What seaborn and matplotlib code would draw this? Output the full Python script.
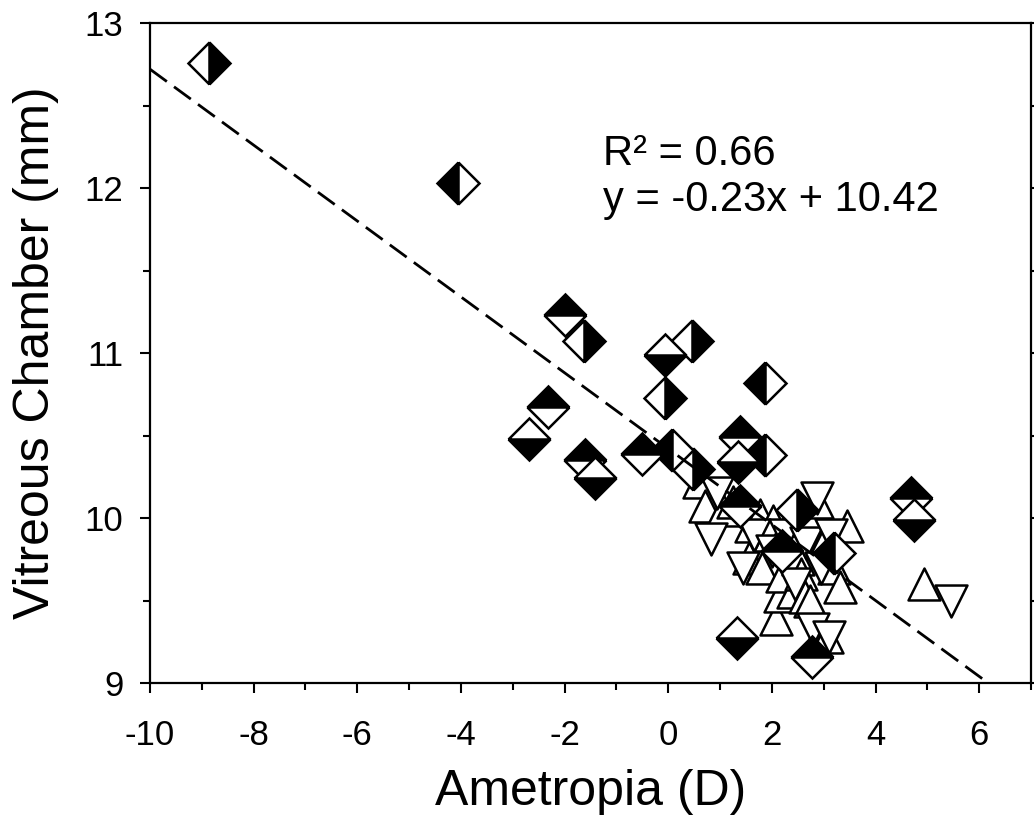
import numpy as np
import pandas as pd
import matplotlib
matplotlib.use("Agg")
import matplotlib.pyplot as plt
import seaborn as sns
from matplotlib.ticker import MultipleLocator

# Half-filled diamonds, grouped by which half is black (x: ametropia D, y: vitreous chamber mm)
diam_right_x = [-8.86, -1.62, -0.06, 0.46, 0.48, 2.49]
diam_right_y = [12.76, 11.07, 10.73, 11.07, 10.30, 10.05]
diam_left_x = [-4.06, 1.87, 0.08, 1.87, 3.20]
diam_left_y = [12.03, 10.82, 10.41, 10.38, 9.79]
diam_top_x = [-1.99, -2.32, -1.60, -0.50, 1.39, 1.39, 2.20, 4.69, 2.78]
diam_top_y = [11.23, 10.67, 10.35, 10.39, 10.49, 10.07, 9.80, 10.12, 9.16]
diam_bottom_x = [-0.06, -2.68, -1.41, 1.35, 4.75, 1.33]
diam_bottom_y = [10.99, 10.48, 10.24, 10.34, 9.99, 9.27]

# Open triangles
tri_up_x = [0.60, 0.71, 1.05, 1.25, 1.56, 1.60, 1.77, 1.81, 1.97, 2.03, 2.08, 2.16,
            2.20, 2.35, 2.40, 2.50, 2.57, 2.64, 2.74, 2.87, 2.97, 3.07, 3.00, 3.20,
            3.32, 3.45, 4.94]
tri_up_y = [10.22, 10.07, 10.05, 10.10, 9.76, 9.95, 10.02, 9.70, 9.90, 9.98, 9.39, 9.53,
            9.65, 9.99, 9.55, 9.75, 9.66, 9.52, 9.50, 10.10, 9.33, 9.28, 9.85, 9.70,
            9.58, 9.95, 9.60]
tri_down_x = [0.83, 0.95, 1.45, 1.65, 2.00, 2.25, 2.45, 2.65, 2.80, 2.87, 2.95, 3.11,
              3.15, 5.46]
tri_down_y = [9.87, 10.15, 9.70, 9.90, 9.80, 9.90, 9.60, 9.85, 9.33, 10.12, 9.70, 9.28,
              9.90, 9.50]

# Linear fit
slope = -0.23
intercept = 10.42
r_squared = 0.66

x_ticks = [-10, -8, -6, -4, -2, 0, 2, 4, 6]
y_ticks = [9, 10, 11, 12, 13]

sns.set_theme(style="ticks", rc={
    "axes.edgecolor": "black",
    "axes.linewidth": 1.6,
    "xtick.color": "black",
    "ytick.color": "black",
    "text.color": "black",
    "axes.labelcolor": "black",
    "axes.unicode_minus": False,
})
plt.rcParams["font.family"] = ["Liberation Sans", "DejaVu Sans"]

fig = plt.figure(figsize=(10.34, 8.31), dpi=100)
ax = fig.add_axes([0.1451, 0.1781, 0.852, 0.7942])

tri_ms = 23.0
diam_ms = 21.0
edge_w = 1.8

sns.scatterplot(x=tri_up_x, y=tri_up_y, marker="^", s=tri_ms ** 2, color="white",
                edgecolor="black", linewidth=edge_w, ax=ax, zorder=2, legend=False)
sns.scatterplot(x=tri_down_x, y=tri_down_y, marker="v", s=tri_ms ** 2, color="white",
                edgecolor="black", linewidth=edge_w, ax=ax, zorder=2, legend=False)

for xs, ys, fs in [(diam_right_x, diam_right_y, "right"),
                   (diam_left_x, diam_left_y, "left"),
                   (diam_top_x, diam_top_y, "top"),
                   (diam_bottom_x, diam_bottom_y, "bottom")]:
    sns.lineplot(x=xs, y=ys, estimator=None, sort=False, color="black",
                 linestyle="", marker="D", markersize=diam_ms, fillstyle=fs,
                 markerfacecolor="black", markerfacecoloralt="white",
                 markeredgecolor="black", markeredgewidth=edge_w, ax=ax,
                 zorder=3, legend=False)

# Regression line across the x range, clipped by the axes
fit_x = np.array([-10.0, 7.0])
fit_y = slope * fit_x + intercept
sns.lineplot(x=fit_x, y=fit_y, color="black", linewidth=2.0,
             linestyle=(0, (7.5, 3.2)), estimator=None, sort=False, ax=ax,
             zorder=4, legend=False)

ax.set_xlim(-10, 7)
ax.set_ylim(9, 13)
ax.set_xticks(x_ticks)
ax.set_yticks(y_ticks)
ax.xaxis.set_minor_locator(MultipleLocator(1))
ax.yaxis.set_minor_locator(MultipleLocator(0.5))

ax.tick_params(axis="both", which="major", direction="out", length=7.2, width=1.5,
               labelsize=25)
ax.tick_params(axis="both", which="minor", direction="out", length=5, width=1.5)
ax.tick_params(axis="x", which="both", top=False, pad=19)
ax.tick_params(axis="y", which="both", right=True, labelright=False, pad=12)
for side in ["top", "right", "left", "bottom"]:
    ax.spines[side].set_visible(True)

ax.set_xlabel("Ametropia (D)", fontsize=36)
ax.set_ylabel("Vitreous Chamber (mm)", fontsize=36)
ax.xaxis.set_label_coords(0.5, -0.165)
ax.xaxis.label.set_va("center")
ax.yaxis.set_label_coords(-0.1290, 0.5)
ax.yaxis.label.set_va("center")

ax.text(-1.26, 12.14, f"R\u00b2 = {r_squared:.2f}", fontsize=30, va="baseline", ha="left")
ax.text(-1.26, 11.86, f"y = {slope:.2f}x + {intercept:.2f}", fontsize=30,
        va="baseline", ha="left")

fig.savefig("out.png", dpi=100)
